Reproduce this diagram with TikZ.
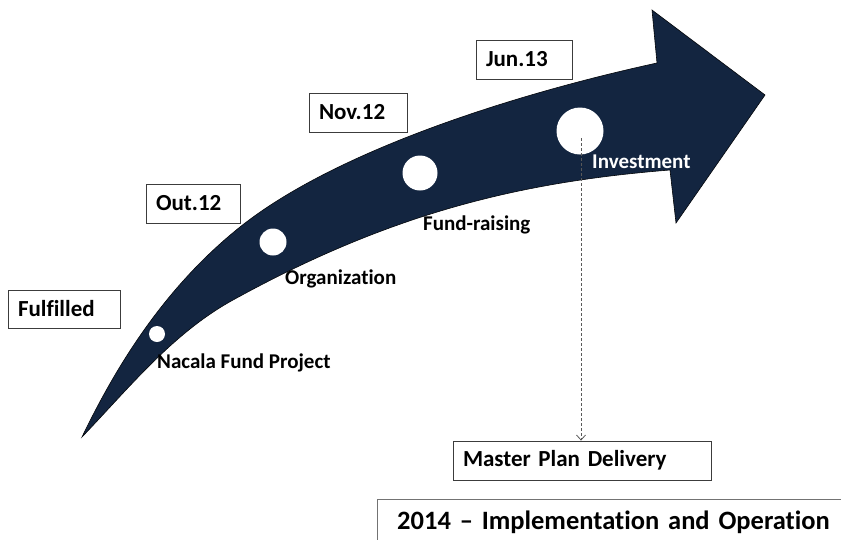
\documentclass[tikz,border=0pt]{standalone}
\usepackage{fontspec}
\setmainfont{Carlito}[Ligatures=NoCommon]
\usetikzlibrary{arrows.meta}
\definecolor{navy}{RGB}{19,37,64}
\definecolor{boxline}{RGB}{60,60,60}
\begin{document}
\begin{tikzpicture}[x=1pt,y=-1pt,
  datebox/.style={draw=boxline, line width=0.8pt, fill=white, inner xsep=10pt, inner ysep=0pt, align=left, font=\fontsize{23}{27}\selectfont\bfseries},
  stage/.style={anchor=base west, inner sep=0pt, font=\fontsize{21}{25}\selectfont\bfseries},
  dot/.style={circle, fill=white, inner sep=0pt},
  dashline/.style={draw=black!65, line width=0.8pt, dash pattern=on 3pt off 2pt, -{Straight Barb[length=5pt,width=9pt]}}]
\useasboundingbox (0,0) rectangle (841,539);
% big arrow
\fill[navy, draw=black!85!navy, line width=0.6pt]
  (82,437) .. controls (121,356) and (170,283) .. (240,227)
  .. controls (334,152) and (510,95) .. (657,63)
  -- (652,10) -- (765,95) -- (676,223) -- (670,170)
  .. controls (520,182) and (391,213) .. (233,300)
  .. controls (173,333) and (129,388) .. (82,437)
  -- cycle;
% milestones
\node[dot, minimum size=16pt] (c1) at (157,334) {};
\node[dot, minimum size=27pt] (c2) at (273,242) {};
\node[dot, minimum size=35pt] (c3) at (420,173) {};
\node[dot, minimum size=47pt] (c4) at (580,131) {};
% stage labels
\node[stage] (nacala) at (157,368) {Nacala Fund Project};
\node[stage] (org) at (285,284) {Organization};
\node[stage] (fund) at (423,230) {Fund-raising};
\node[stage, text=white] (inv) at (592,168) {Investment};
% date boxes
\node[datebox, text width=92pt, minimum height=38pt] (fulfilled) at (64,309) {Fulfilled};
\node[datebox, text width=74pt, minimum height=39pt] (out) at (193,203.5) {Out.12};
\node[datebox, text width=78pt, minimum height=39pt] (nov) at (358,112.5) {Nov.12};
\node[datebox, text width=76pt, minimum height=39pt] (jun) at (524,59.5) {Jun.13};
\node[datebox, text width=238pt, minimum height=39pt] (master) at (582,460.5) {Master Plan Delivery};
\node[datebox, draw=black!55, align=center, text width=453pt, minimum height=46pt, font=\fontsize{26.5}{30}\selectfont\bfseries] (impl) at (613.5,522) {2014 -- Implementation and Operation};
% dashed connector
\coordinate (dtop) at (581,138);
\draw[dashline] (dtop) -- (master.north -| dtop);
\end{tikzpicture}
\end{document}
